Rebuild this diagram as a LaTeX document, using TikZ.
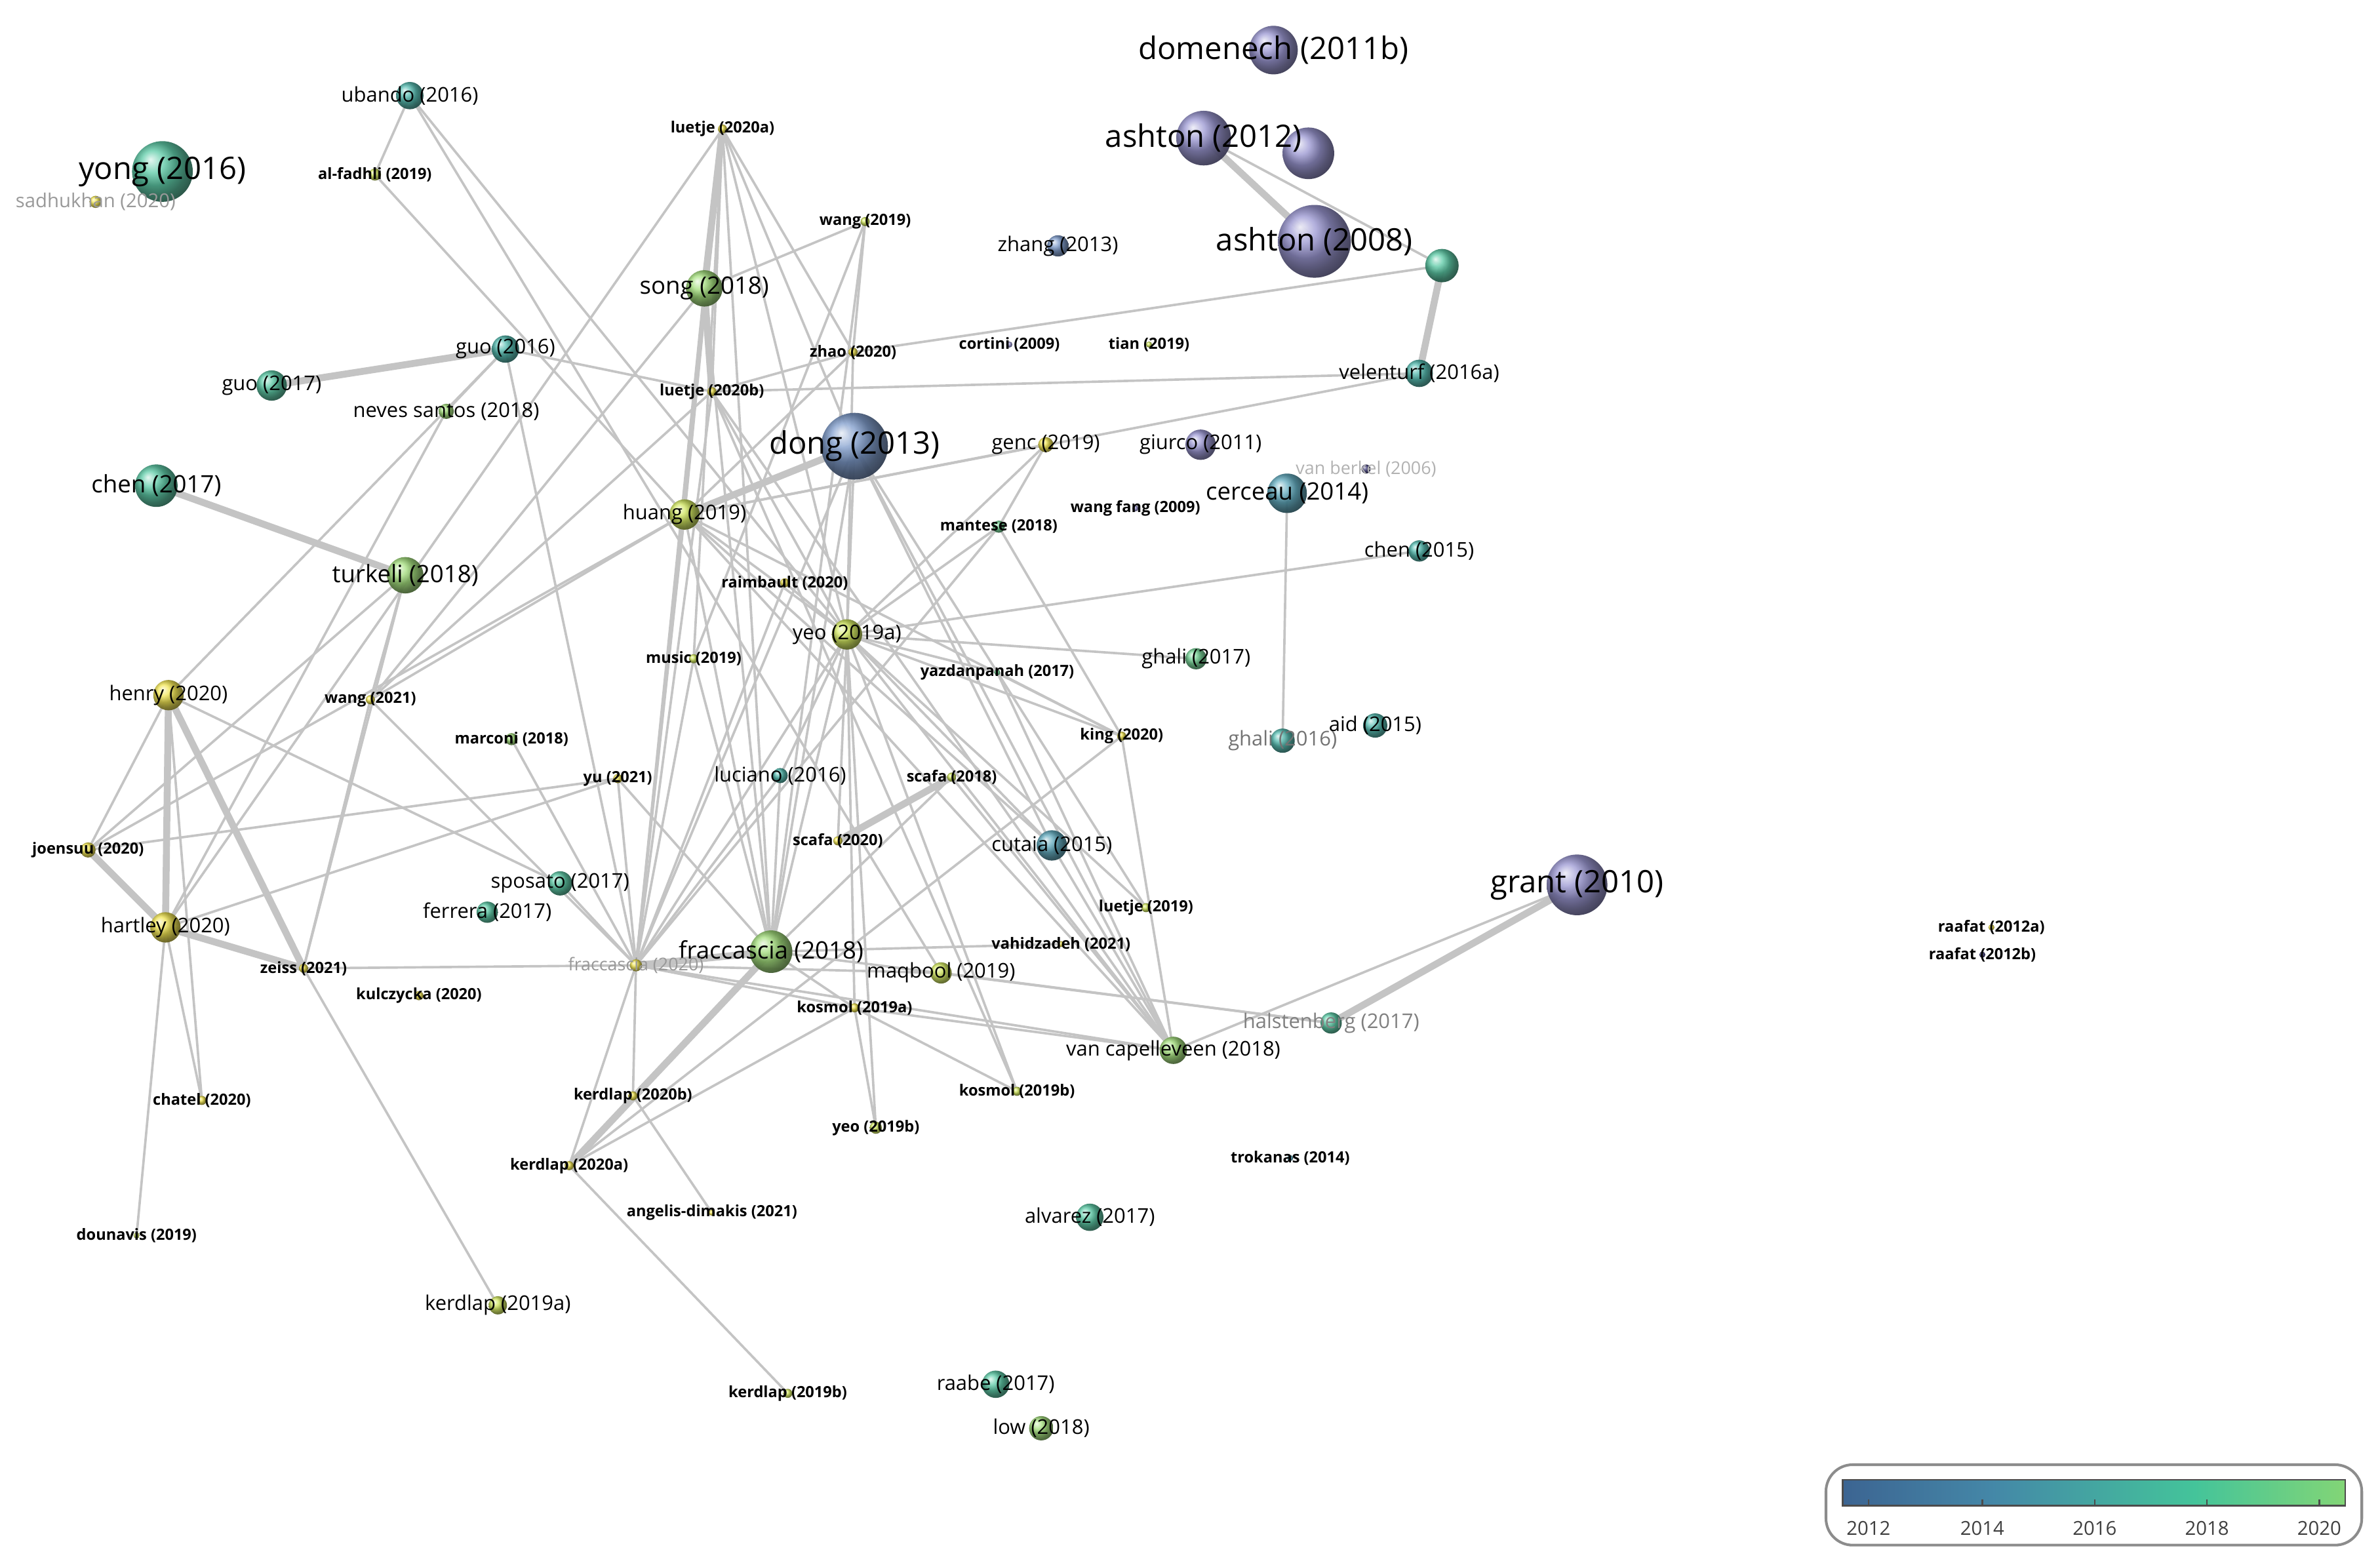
\documentclass[tikz,border=0pt]{standalone}
\usepackage{fontspec}
\setmainfont{Open Sans}
\definecolor{cA}{HTML}{8B87CC}
\definecolor{cB}{HTML}{6D8FC6}
\definecolor{cC}{HTML}{4A9FB6}
\definecolor{cD}{HTML}{3CB3A6}
\definecolor{cE}{HTML}{44C49A}
\definecolor{cF}{HTML}{62CF88}
\definecolor{cG}{HTML}{97DB6A}
\definecolor{cH}{HTML}{CFE84B}
\definecolor{cI}{HTML}{F2E43A}
\definecolor{cN}{HTML}{2E2A6E}
\definecolor{edge}{HTML}{C4C4C4}
\pgfdeclarehorizontalshading{viridis}{100bp}{color(0bp)=(cN!90!black); color(20bp)=(cN!60!cC); color(40bp)=(cC!80!cN); color(60bp)=(cE); color(80bp)=(cG); color(100bp)=(cI)}
\begin{document}
\begin{tikzpicture}[x=0.01cm,y=-0.01cm,
  e/.style={draw=edge,line width=0.45pt},
  E/.style={draw=edge,line width=1.3pt},
  fs/.style={font=\fontsize{2.9pt}{3pt}\selectfont\bfseries},
  fm/.style={font=\fontsize{3.8pt}{4pt}\selectfont},
  fl/.style={font=\fontsize{4.5pt}{5pt}\selectfont},
  fx/.style={font=\fontsize{5.8pt}{6pt}\selectfont},
  gr/.style={text=black!45},
  lb/.style={inner sep=0pt}]
\useasboundingbox (0,0) rectangle (1568,1031);
\fill[white] (0,0) rectangle (1568,1031);
% coordinates of nodes
\foreach \n/\x/\y in {domenech/839/33,ashtonA/793/91,ashtonB/862/101,ashtonC/866/159,tealx/950/175,zhang/697/162,
ubando/270/63,alfadhli/247/115,sadhukhan/63/133,yong/107/113,luetjeA/476/85,wangA/570/146,song/464/190,zhao/562/232,
cortini/665/227,tian/757/227,velenturf/935/246,guoA/333/230,guoB/179/254,neves/294/271,luetjeB/469/258,dong/563/294,
genc/689/293,giurco/791/293,vanberkel/900/309,cerceau/848/325,wangfang/748/335,chenA/103/320,huang/451/339,
mantese/658/347,chenB/935/363,turkeli/267/379,raimbault/517/384,yeoA/558/418,music/457/434,ghaliA/788/434,
yazdan/657/443,henry/111/458,wangB/244/461,marconi/337/487,king/739/485,ghaliB/845/488,aid/906/478,yu/407/513,
luciano/514/511,scafaA/627/512,scafaB/552/554,cutaia/693/557,joensuu/58/560,sposato/369/582,ferrera/321/601,
luetjeC/755/598,grant/1039/583,hartley/109/611,zeiss/200/638,fracB/419/636,fracA/508/627,vahid/699/622,
maqbool/620/641,kulczycka/276/656,raafatA/1312/611,raafatB/1306/629,kosmolA/563/664,halsten/877/674,
vancap/773/692,kosmolB/670/719,kerdlapB/417/722,chatel/133/725,yeoB/577/743,kerdlapA/375/768,trokanas/850/763,
angelis/469/799,alvarez/718/802,dounavis/90/814,kerdlapC/328/860,kerdlapD/519/918,raabe/656/912,low/686/941}
  \coordinate (\n) at (\x,\y);
% edges
\foreach \a/\b in {ubando/alfadhli,ubando/maqbool,alfadhli/vancap,guoA/neves,guoA/luetjeB,guoA/fracB,
turkeli/wangB,turkeli/zeiss,neves/hartley,henry/joensuu,henry/chatel,henry/sposato,henry/guoA,
hartley/luetjeA,joensuu/yu,joensuu/huang,hartley/yu,hartley/dounavis,hartley/chatel,joensuu/turkeli,
zeiss/fracB,zeiss/kerdlapC,zeiss/wangB,wangB/huang,wangB/luetjeB,wangB/fracB,wangB/song,
fracB/luetjeA,fracB/song,fracB/huang,fracB/luetjeB,fracB/yeoA,fracB/music,fracB/luciano,fracB/dong,fracB/raimbault,
fracB/maqbool,fracB/kosmolA,fracB/vancap,fracB/kerdlapA,fracB/kerdlapB,fracB/yu,fracB/sposato,fracB/marconi,
fracA/song,fracA/huang,fracA/luetjeA,fracA/yeoA,fracA/luciano,fracA/dong,fracA/vahid,fracA/kosmolA,fracA/halsten,fracA/yu,
fracA/scafaA,fracA/wangA,fracA/music,
yeoA/dong,yeoA/genc,yeoA/mantese,yeoA/chenB,yeoA/ghaliA,yeoA/king,yeoA/cutaia,yeoA/luetjeC,yeoA/vancap,yeoA/kosmolB,
yeoA/yeoB,yeoA/scafaB,yeoA/luciano,yeoA/raimbault,yeoA/huang,yeoA/luetjeB,yeoA/yazdan,yeoA/kosmolA,
luetjeA/luetjeB,luetjeA/huang,luetjeA/dong,luetjeA/yeoA,luetjeA/zhao,luetjeA/music,
wangA/song,wangA/zhao,wangA/music,zhao/tealx,zhao/luetjeB,zhao/yeoA,zhao/huang,luetjeB/velenturf,huang/velenturf,huang/genc,
ashtonA/tealx,genc/mantese,mantese/king,mantese/fracB,cerceau/ghaliB,cutaia/vancap,cutaia/dong,
king/kerdlapA,king/vancap,yazdan/king,yazdan/vancap,grant/vancap,halsten/maqbool,
vancap/kosmolA,vancap/dong,vancap/luetjeB,vancap/scafaA,luetjeC/dong,kosmolA/kosmolB,kosmolA/yeoB,kosmolA/kerdlapA,
kerdlapA/kerdlapD,kerdlapB/angelis,luetjeB/kosmolB,huang/king,huang/cutaia,ubando/yeoA}
  \draw[e] (\a) -- (\b);
\foreach \a/\b in {guoB/guoA,chenA/turkeli,henry/hartley,henry/zeiss,hartley/zeiss,joensuu/hartley,
luetjeA/song,song/luetjeB,ashtonA/ashtonC,velenturf/tealx,grant/halsten,scafaA/scafaB,fracA/fracB,huang/dong,kerdlapA/fracA}
  \draw[E] (\a) -- (\b);
% circles
\foreach \n/\r/\c in {domenech/16/cA,ashtonA/18/cA,ashtonB/17/cA,ashtonC/24/cA,tealx/11/cE,zhang/7/cB,
ubando/9/cD,alfadhli/4/cH,sadhukhan/4/cI,yong/20/cE,luetjeA/3/cI,wangA/3/cH,song/12/cG,zhao/3/cI,cortini/2/cA,
tian/2/cH,velenturf/9/cD,guoA/9/cD,guoB/10/cE,neves/5/cG,luetjeB/3/cI,dong/22/cB,genc/5/cI,giurco/10/cA,
vanberkel/3/cN,cerceau/13/cC,wangfang/2/cA,chenA/14/cE,huang/10/cH,mantese/4/cF,chenB/7/cD,turkeli/12/cG,
raimbault/3/cI,yeoA/10/cH,music/3/cH,ghaliA/7/cF,yazdan/2/cF,henry/10/cI,wangB/3/cI,marconi/4/cG,king/3/cI,
ghaliB/8/cD,aid/8/cD,yu/3/cI,luciano/5/cD,scafaA/3/cH,scafaB/3/cI,cutaia/10/cC,joensuu/5/cI,sposato/8/cE,
ferrera/7/cE,luetjeC/3/cH,grant/20/cA,hartley/10/cI,zeiss/3/cI,fracB/4/cI,fracA/14/cG,vahid/2/cI,maqbool/7/cH,
kulczycka/3/cI,raafatA/2/cI,raafatB/2/cN,kosmolA/3/cI,halsten/7/cE,vancap/9/cG,kosmolB/3/cH,kerdlapB/3/cI,
chatel/3/cI,yeoB/4/cH,kerdlapA/3/cI,trokanas/2/cC,angelis/2/cI,alvarez/9/cE,dounavis/2/cH,kerdlapC/6/cH,
kerdlapD/3/cH,raabe/9/cE,low/8/cG}
  \shade[ball color=\c!92!white, opacity=0.95] (\n) circle (\r);
% labels
\foreach \n/\f/\t in {domenech/fx/domenech (2011b),ashtonA/fx/ashton (2012),ashtonC/fx/ashton (2008),zhang/fm/zhang (2013),
ubando/fm/ubando (2016),alfadhli/fs/al-fadhli (2019),yong/fx/yong (2016),luetjeA/fs/luetje (2020a),wangA/fs/wang (2019),
song/fl/song (2018),zhao/fs/zhao (2020),cortini/fs/cortini (2009),tian/fs/tian (2019),velenturf/fm/velenturf (2016a),
guoA/fm/guo (2016),guoB/fm/guo (2017),neves/fm/neves santos (2018),luetjeB/fs/luetje (2020b),dong/fx/dong (2013),
genc/fm/genc (2019),giurco/fm/giurco (2011),cerceau/fl/cerceau (2014),wangfang/fs/wang fang (2009),chenA/fl/chen (2017),
huang/fm/huang (2019),mantese/fs/mantese (2018),chenB/fm/chen (2015),turkeli/fl/turkeli (2018),raimbault/fs/raimbault (2020),
yeoA/fm/yeo (2019a),music/fs/music (2019),ghaliA/fm/ghali (2017),yazdan/fs/yazdanpanah (2017),henry/fm/henry (2020),
wangB/fs/wang (2021),marconi/fs/marconi (2018),king/fs/king (2020),aid/fm/aid (2015),yu/fs/yu (2021),
luciano/fm/luciano (2016),scafaA/fs/scafa (2018),scafaB/fs/scafa (2020),cutaia/fm/cutaia (2015),joensuu/fs/joensuu (2020),
sposato/fm/sposato (2017),ferrera/fm/ferrera (2017),luetjeC/fs/luetje (2019),grant/fx/grant (2010),hartley/fm/hartley (2020),
zeiss/fs/zeiss (2021),fracA/fl/fraccascia (2018),vahid/fs/vahidzadeh (2021),maqbool/fm/maqbool (2019),
kulczycka/fs/kulczycka (2020),raafatA/fs/raafat (2012a),raafatB/fs/raafat (2012b),kosmolA/fs/kosmol (2019a),
vancap/fm/van capelleveen (2018),kosmolB/fs/kosmol (2019b),kerdlapB/fs/kerdlap (2020b),chatel/fs/chatel (2020),
yeoB/fs/yeo (2019b),kerdlapA/fs/kerdlap (2020a),trokanas/fs/trokanas (2014),angelis/fs/angelis-dimakis (2021),
alvarez/fm/alvarez (2017),dounavis/fs/dounavis (2019),kerdlapC/fm/kerdlap (2019a),kerdlapD/fs/kerdlap (2019b),
raabe/fm/raabe (2017),low/fm/low (2018)}
  \node[lb,\f] (L\n) at (\n) {\t};
\node[lb,fm,text=black!55] (LghaliB) at (ghaliB) {ghali (2016)};
\node[lb,fm,text=black!50] (Lhalsten) at (halsten) {halstenberg (2017)};
\node[lb,fs,text=black!40,font=\fontsize{3.3pt}{4pt}\selectfont] (LfracB) at (fracB) {fraccascia (2020)};
\node[lb,text=black!40,font=\fontsize{3.6pt}{4pt}\selectfont] (Lsadh) at (sadhukhan) {sadhukhan (2020)};
\node[lb,text=black!30,font=\fontsize{3.3pt}{4pt}\selectfont] (Lvb) at (vanberkel) {van berkel (2006)};
% legend
\draw[black!45,line width=0.5pt,rounded corners=5] (1203,965) rectangle (1556,1018);
\shade[shading=viridis] (1214,975) rectangle (1545,992);
\draw[black!70,line width=0.3pt] (1214,975) rectangle (1545,992);
\foreach \x/\t in {1231/2012,1306/2014,1380/2016,1454/2018,1528/2020}{
  \draw[black!70,line width=0.3pt] (\x,988) -- (\x,992);
  \node[lb,font=\fontsize{3.6pt}{4pt}\selectfont,text=black!75] (T\t) at (\x,1007) {\t};}
\end{tikzpicture}
\end{document}
